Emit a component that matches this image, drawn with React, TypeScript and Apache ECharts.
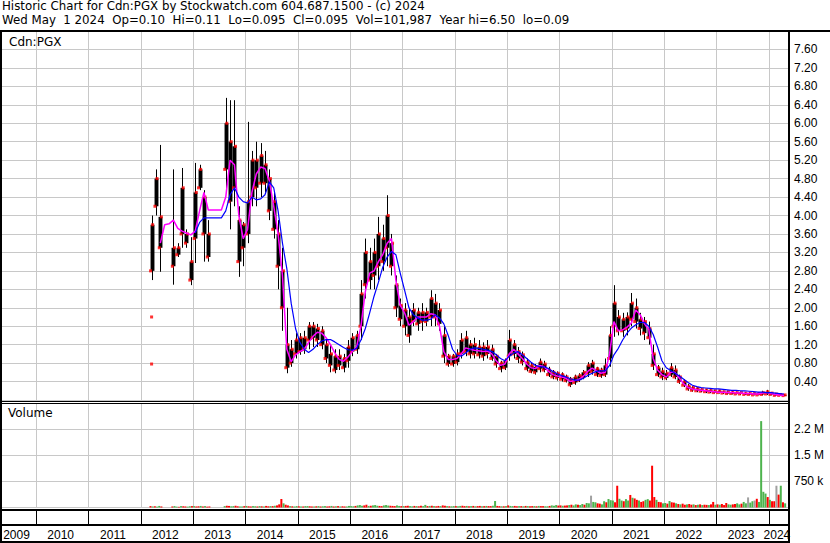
import React, { useEffect, useRef } from "react";
import * as echarts from "echarts";

const HEADER_1 = "Historic Chart for Cdn:PGX by Stockwatch.com 604.687.1500 - (c) 2024";
const HEADER_2 = "Wed May\u00a0 1 2024\u00a0 Op=0.10\u00a0 Hi=0.11\u00a0 Lo=0.095\u00a0 Cl=0.095\u00a0 Vol=101,987\u00a0 Year hi=6.50\u00a0 lo=0.09";
const SYMBOL_LABEL = "Cdn:PGX";
const VOLUME_LABEL = "Volume";

// visible time window (fractional years)
const T_MIN = 2009.312;
const T_MAX = 2024.367;

const YEARS = [2009, 2010, 2011, 2012, 2013, 2014, 2015, 2016, 2017, 2018, 2019, 2020, 2021, 2022, 2023, 2024];

// monthly data from March 2012 to April 2024
const FIRST_YEAR = 2012;
const FIRST_MONTH = 3;
const MONTH_COUNT = 146;

const LOW = [
  2.6, 4.0, 2.78, null, null, 2.5, 3.1, 3.3, 3.3, 2.49,
  2.97, 4.55, 3.0, 3.0, null, null, null, 4.55, 3.7, 4.2, 2.67, 2.9,
  3.4, 4.2, 4.2, 4.4, 4.5, 3.9, 3.5, 2.4, 1.5, 0.58, 0.72, 0.9,
  0.98, 1.0, 1.1, 1.15, 1.15, 1.1, 0.8, 0.6, 0.58, 0.65, 0.6, 0.7,
  0.95, 1.0, 1.3, 2.2, 2.4, 2.4, 2.6, 2.8, 2.9, 2.7, 1.8, 1.6,
  1.4, 1.24, 1.6, 1.5, 1.5, 1.6, 1.6, 1.6, 1.5, 0.8, 0.72, 0.72,
  0.75, 0.9, 0.95, 0.9, 0.9, 0.9, 0.85, 0.9, 0.85, 0.7, 0.6, 0.65,
  0.85, 0.9, 0.8, 0.75, 0.62, 0.58, 0.55, 0.6, 0.6, 0.5, 0.45, 0.42,
  0.4, 0.38, 0.28, 0.33, 0.39, 0.45, 0.5, 0.55, 0.5, 0.48, 0.5, 0.72,
  1.37, 1.4, 1.37, 1.4, 1.6, 1.55, 1.4, 1.3, 1.2, 0.65, 0.5, 0.43,
  0.43, 0.5, 0.45, 0.35, 0.28, 0.2, 0.18, 0.17, 0.17, 0.15, 0.15, 0.14,
  0.14, 0.13, 0.12, 0.12, 0.12, 0.11, 0.11, 0.1, 0.1, 0.1, 0.1, 0.11,
  0.1, 0.09, 0.09, 0.09,
];
const HIGH = [
  4.0, 5.0, 5.53, null, null, 5.0, 3.4, 5.03, 3.7, 3.53,
  5.14, 5.1, 4.55, 3.9, null, null, null, 6.55, 6.5, 6.5, 4.2, 3.86,
  6.03, 5.4, 5.6, 5.57, 5.4, 5.0, 4.5, 3.9, 3.3, 2.0, 1.3, 1.45,
  1.45, 1.5, 1.69, 1.69, 1.65, 1.6, 1.3, 1.2, 1.1, 1.1, 1.0, 1.3,
  1.45, 1.5, 2.6, 3.5, 3.3, 3.5, 3.97, 3.8, 4.44, 3.6, 2.7, 2.2,
  2.1, 2.0, 2.1, 2.0, 2.1, 2.0, 2.38, 2.3, 2.1, 1.6, 1.0, 1.0,
  1.1, 1.45, 1.5, 1.3, 1.35, 1.3, 1.25, 1.3, 1.2, 1.0, 0.85, 0.9,
  1.52, 1.3, 1.15, 1.05, 0.9, 0.8, 0.78, 0.9, 0.85, 0.72, 0.65, 0.62,
  0.6, 0.55, 0.5, 0.55, 0.58, 0.65, 0.82, 0.87, 0.72, 0.7, 0.9, 1.6,
  2.49, 1.95, 1.89, 1.9, 2.32, 2.2, 1.89, 1.8, 1.7, 1.2, 0.76, 0.7,
  0.65, 0.8, 0.75, 0.55, 0.45, 0.35, 0.3, 0.28, 0.25, 0.24, 0.23, 0.22,
  0.22, 0.2, 0.2, 0.19, 0.18, 0.18, 0.17, 0.17, 0.16, 0.16, 0.2, 0.22,
  0.17, 0.14, 0.13, 0.12,
];
const OPEN = [
  2.8, 4.2, 3.3, null, null, 2.9, 3.15, 3.6, 3.4, 2.6,
  3.5, 4.6, 3.6, 3.1, null, null, null, 5.0, 4.3, 4.6, 3.0, 3.3,
  3.6, 4.4, 4.6, 4.7, 4.7, 4.1, 3.7, 2.9, 2.0, 0.7, 0.8, 1.0,
  1.05, 1.1, 1.3, 1.35, 1.3, 1.2, 0.9, 0.75, 0.65, 0.75, 0.7, 0.85,
  1.05, 1.1, 1.6, 2.5, 2.6, 2.7, 2.9, 3.0, 3.3, 2.9, 2.0, 1.75,
  1.6, 1.4, 1.7, 1.65, 1.7, 1.7, 1.8, 1.8, 1.65, 0.95, 0.78, 0.78,
  0.82, 1.0, 1.05, 1.0, 1.0, 0.98, 0.95, 1.0, 0.9, 0.78, 0.68, 0.7,
  0.95, 1.0, 0.9, 0.82, 0.68, 0.62, 0.6, 0.68, 0.65, 0.55, 0.5, 0.48,
  0.45, 0.42, 0.33, 0.38, 0.43, 0.5, 0.58, 0.62, 0.55, 0.53, 0.55, 0.9,
  1.6, 1.5, 1.5, 1.55, 1.75, 1.7, 1.55, 1.45, 1.35, 0.75, 0.55, 0.5,
  0.48, 0.55, 0.5, 0.4, 0.32, 0.24, 0.21, 0.2, 0.19, 0.18, 0.17, 0.16,
  0.16, 0.15, 0.14, 0.14, 0.13, 0.13, 0.12, 0.12, 0.11, 0.11, 0.12, 0.13,
  0.12, 0.1, 0.1, 0.095,
];
const CLOSE = [
  3.8, 4.8, 3.97, null, null, 3.3, 3.3, 4.6, 3.6, 3.0,
  4.5, 5.0, 4.4, 3.6, null, null, null, 6.0, 5.6, 5.5, 3.9, 3.8,
  4.3, 5.2, 5.2, 5.3, 5.1, 4.8, 4.3, 3.6, 2.8, 1.2, 1.1, 1.3,
  1.35, 1.35, 1.6, 1.6, 1.55, 1.5, 1.2, 1.0, 0.95, 0.95, 0.9, 1.15,
  1.35, 1.4, 2.3, 3.2, 3.0, 3.2, 3.6, 3.5, 4.0, 3.4, 2.5, 2.05,
  1.95, 1.8, 1.95, 1.9, 1.9, 1.9, 2.2, 2.1, 1.95, 1.4, 0.95, 0.95,
  1.0, 1.3, 1.35, 1.2, 1.2, 1.15, 1.15, 1.15, 1.1, 0.95, 0.8, 0.85,
  1.3, 1.2, 1.05, 0.98, 0.82, 0.75, 0.72, 0.82, 0.78, 0.65, 0.6, 0.58,
  0.55, 0.5, 0.45, 0.5, 0.53, 0.6, 0.75, 0.8, 0.68, 0.65, 0.75, 1.4,
  2.1, 1.8, 1.75, 1.8, 2.1, 2.0, 1.75, 1.7, 1.55, 1.0, 0.7, 0.62,
  0.58, 0.7, 0.65, 0.5, 0.4, 0.3, 0.27, 0.25, 0.23, 0.22, 0.21, 0.2,
  0.2, 0.18, 0.18, 0.17, 0.16, 0.16, 0.15, 0.15, 0.14, 0.14, 0.16, 0.18,
  0.15, 0.13, 0.12, 0.11,
];
const MA_FAST = [
  null, null, 3.4, 3.8, 3.82, 3.9, 3.72, 3.66, 3.62, 3.58,
  3.66, 4.1, 4.5, 4.12, 4.12, 4.12, 4.12, 4.4, 5.2, 5.1, 4.0, 3.5,
  3.7, 4.5, 4.9, 5.05, 5.02, 4.75, 4.2, 3.6, 2.7, 1.1, 0.83, 0.98,
  1.05, 1.1, 1.25, 1.38, 1.47, 1.45, 1.35, 1.2, 1.02, 0.88, 0.84, 0.93,
  1.05, 1.15, 1.6, 2.35, 2.75, 2.8, 3.0, 3.15, 3.4, 3.5, 2.6, 2.05,
  1.89, 1.62, 1.7, 1.8, 1.8, 1.8, 1.87, 1.85, 1.6, 1.05, 0.88, 0.88,
  0.9, 1.0, 1.13, 1.1, 1.08, 1.07, 1.05, 1.06, 1.0, 0.85, 0.75, 0.78,
  1.0, 1.1, 1.0, 0.9, 0.78, 0.7, 0.68, 0.75, 0.72, 0.62, 0.55, 0.52,
  0.5, 0.47, 0.4, 0.42, 0.45, 0.52, 0.62, 0.69, 0.63, 0.58, 0.6, 1.0,
  1.7, 1.5, 1.52, 1.58, 1.67, 1.95, 1.85, 1.65, 1.52, 0.9, 0.65, 0.55,
  0.5, 0.6, 0.6, 0.47, 0.35, 0.27, 0.24, 0.22, 0.21, 0.2, 0.19, 0.18,
  0.17, 0.17, 0.16, 0.16, 0.15, 0.15, 0.14, 0.14, 0.13, 0.13, 0.15, 0.16,
  0.14, 0.12, 0.11, 0.1,
];
const MA_SLOW = [
  null, null, null, null, null, null, null, null, null, null,
  3.62, 3.85, 3.95, 3.95, 3.95, 3.95, 3.95, 4.1, 4.45, 4.6, 4.4, 4.3,
  4.27, 4.4, 4.34, 4.36, 4.45, 4.73, 4.6, 4.1, 3.4, 2.85, 2.1, 1.55,
  1.25, 1.1, 1.03, 1.1, 1.2, 1.28, 1.31, 1.31, 1.26, 1.2, 1.14, 1.09,
  1.08, 1.12, 1.3, 1.55, 1.89, 2.25, 2.55, 2.88, 3.1, 3.22, 3.15, 2.75,
  2.38, 2.0, 1.85, 1.78, 1.73, 1.73, 1.75, 1.85, 1.78, 1.65, 1.4, 1.1,
  0.97, 0.95, 1.02, 1.1, 1.13, 1.12, 1.1, 1.08, 1.05, 0.98, 0.9, 0.85,
  0.95, 1.02, 1.05, 0.98, 0.9, 0.82, 0.75, 0.72, 0.72, 0.68, 0.62, 0.57,
  0.53, 0.5, 0.46, 0.43, 0.43, 0.47, 0.53, 0.58, 0.62, 0.63, 0.63, 0.75,
  0.98, 1.12, 1.3, 1.45, 1.56, 1.63, 1.68, 1.68, 1.6, 1.42, 1.15, 0.85,
  0.7, 0.64, 0.58, 0.52, 0.45, 0.38, 0.32, 0.29, 0.27, 0.26, 0.25, 0.24,
  0.24, 0.23, 0.22, 0.21, 0.21, 0.2, 0.2, 0.19, 0.18, 0.17, 0.17, 0.16,
  0.16, 0.15, 0.14, 0.13,
];
// isolated trades
const STRAY_MONTHS = ["2012-03", "2012-03"];
const STRAY_PRICES = [1.8, 0.78];

// volume in thousands, first half / second half of each month
const VOL_FIRST = [
  40, 35, 45, 0, 0, 30, 25, 40, 30, 35,
  40, 35, 30, 25, 0, 0, 0, 40, 45, 40, 35, 30,
  45, 30, 35, 40, 30, 35, 40, 60, 244, 80, 40, 30,
  35, 30, 40, 30, 35, 30, 40, 35, 30, 40, 35, 30,
  40, 45, 70, 60, 45, 60, 50, 40, 70, 50, 40, 45,
  40, 50, 35, 40, 50, 75, 45, 40, 45, 60, 40, 35,
  40, 45, 40, 35, 45, 40, 35, 45, 40, 187, 40, 35,
  60, 40, 35, 40, 45, 35, 40, 45, 40, 35, 60, 70,
  60, 55, 70, 60, 80, 100, 130, 340, 150, 110, 180, 244,
  200, 625, 200, 240, 360, 260, 200, 180, 240, 1200, 220, 150,
  130, 187, 140, 100, 110, 90, 80, 70, 90, 80, 70, 160,
  90, 100, 130, 80, 100, 90, 160, 290, 180, 250, 2480, 400,
  220, 180, 370, 150,
];
const VOL_SECOND = [
  30, 25, 30, 0, 0, 40, 20, 35, 25, 40,
  30, 45, 40, 30, 0, 0, 0, 50, 35, 50, 30, 40,
  35, 40, 30, 35, 45, 40, 50, 90, 120, 60, 35, 40,
  30, 40, 35, 30, 40, 35, 30, 45, 35, 30, 30, 45,
  35, 60, 50, 80, 50, 70, 45, 60, 55, 45, 60, 40,
  45, 40, 45, 35, 40, 40, 50, 35, 40, 50, 35, 40,
  35, 50, 45, 40, 35, 45, 40, 40, 50, 45, 35, 40,
  45, 45, 40, 35, 40, 40, 35, 40, 35, 45, 50, 55,
  50, 60, 80, 90, 70, 80, 120, 160, 120, 90, 150, 210,
  150, 250, 180, 200, 280, 220, 160, 220, 200, 300, 160, 120,
  110, 150, 120, 90, 80, 100, 90, 80, 70, 75, 90, 80,
  80, 70, 90, 90, 120, 110, 120, 140, 200, 160, 450, 300,
  180, 625, 625, 120,
];
// g = up, r = down, n = unchanged (two per month)
const VOL_DIR = [
  "rgrggrrgrgrggrgrrggr",
  "grrgrgrrgggrgrgrrggrrggr",
  "grrggrgrgrrgrgrrrgrrgrgg",
  "rgrggrrgrgrggrrgrgrgrrgg",
  "ggrgggrrgrgggrrgggrrrggr",
  "grrggrgrrggrgrgrrgrrgrgg",
  "rggrrgrgrgrrgrgrrggrrgrg",
  "rggrrgrgrgrrgrgrrggrgggr",
  "rgrrgrggrggrggnggrrggrgg",
  "grrggrggrgrrgrrggrrrgrrg",
  "grgrrgrgrrgrrgrgrgrrgrrg",
  "rgrrrggrrggrggnggnrggggr",
  "grrnrgrg",
].join("");

const FONT = '"Liberation Sans", Arial, sans-serif';
const HEAD_FONT = '"DejaVu Sans", sans-serif';

export default function App() {
  const ref = useRef<HTMLDivElement>(null);

  useEffect(() => {
    if (!ref.current) return;
    const chart = echarts.init(ref.current, undefined, { renderer: "svg" });

    const monthTime = (i: number, frac: number) => {
      const idx = FIRST_YEAR * 12 + (FIRST_MONTH - 1) + i;
      return Math.floor(idx / 12) + ((idx % 12) + frac) / 12;
    };
    const parseMonth = (s: string) => {
      const [y, m] = s.split("-").map(Number);
      return y + (m - 0.5) / 12;
    };

    const bars: number[][] = [];
    const marks: number[][] = [];
    const fast: number[][] = [];
    const slow: number[][] = [];
    const vols: any[] = [];
    const dirColor: Record<string, string> = { g: "#4db34d", r: "#ff0000", n: "#a0a0a0" };

    for (let i = 0; i < MONTH_COUNT; i++) {
      const t = monthTime(i, 0.5);
      if (LOW[i] != null && HIGH[i] != null) {
        bars.push([t, OPEN[i] as number, CLOSE[i] as number, LOW[i] as number, HIGH[i] as number]);
        marks.push([t - 0.02, OPEN[i] as number]);
        marks.push([t + 0.02, CLOSE[i] as number]);
      }
      if (MA_FAST[i] != null) fast.push([t, MA_FAST[i] as number]);
      if (MA_SLOW[i] != null) slow.push([t, MA_SLOW[i] as number]);
      const a = VOL_FIRST[i] * 1000;
      const b = VOL_SECOND[i] * 1000;
      if (a > 0) vols.push({ value: [monthTime(i, 0.25), a], itemStyle: { color: dirColor[VOL_DIR[2 * i]] } });
      if (b > 0) vols.push({ value: [monthTime(i, 0.75), b], itemStyle: { color: dirColor[VOL_DIR[2 * i + 1]] } });
    }
    STRAY_MONTHS.forEach((m, i) => marks.push([parseMonth(m), STRAY_PRICES[i]]));

    const boundaries = YEARS.filter((y) => y > T_MIN && y < T_MAX).map((y) => [y]);

    const yearLines = (axis: number, color: string) => ({
      type: "custom",
      xAxisIndex: axis,
      yAxisIndex: axis,
      silent: true,
      z: 1,
      data: boundaries,
      encode: { x: 0 },
      renderItem: (params: any, api: any) => {
        const cs = params.coordSys;
        const x = Math.round(api.coord([api.value(0), 0])[0]) + 0.5;
        return {
          type: "line",
          shape: { x1: x, y1: cs.y, x2: x, y2: cs.y + cs.height },
          style: { stroke: color, lineWidth: 1 },
        };
      },
    });

    const xAxes = [0, 1, 2, 3].map((g) => ({
      type: "value",
      gridIndex: g,
      min: T_MIN,
      max: T_MAX,
      show: false,
      splitLine: { show: false },
    }));

    const frame = (x: number, y: number, w: number, h: number) => ({
      type: "rect",
      z: 100,
      silent: true,
      shape: { x, y, width: w, height: h },
      style: { fill: "#000" },
    });

    const option: any = {
      animation: false,
      backgroundColor: "#ffffff",
      grid: [
        { left: 0, top: 31, width: 788, height: 369 },
        { left: 0, top: 403, width: 788, height: 104.5 },
        { left: 0, top: 511, width: 788, height: 13 },
        { left: 0, top: 526, width: 788, height: 17 },
      ],
      xAxis: xAxes,
      yAxis: [
        {
          type: "value",
          gridIndex: 0,
          position: "right",
          min: 0,
          max: 8,
          interval: 0.4,
          axisLine: { show: false },
          axisTick: { show: false },
          axisLabel: {
            show: true,
            margin: 6,
            color: "#000",
            fontSize: 12,
            fontFamily: FONT,
            showMinLabel: false,
            showMaxLabel: false,
            formatter: (v: number) => v.toFixed(2),
          },
          splitLine: { show: true, lineStyle: { color: "#c8c8c8", width: 1 } },
        },
        {
          type: "value",
          gridIndex: 1,
          position: "right",
          min: 0,
          max: 3000000,
          interval: 750000,
          axisLine: { show: false },
          axisTick: { show: false },
          axisLabel: {
            show: true,
            margin: 6,
            color: "#000",
            fontSize: 12,
            fontFamily: FONT,
            showMinLabel: false,
            showMaxLabel: false,
            formatter: (v: number) =>
              v >= 1000000 ? (Math.floor(v / 100000) / 10).toFixed(1) + " M" : Math.round(v / 1000) + " k",
          },
          splitLine: { show: true, lineStyle: { color: "#c8c8c8", width: 1 } },
        },
        { type: "value", gridIndex: 2, min: 0, max: 1, show: false, splitLine: { show: false } },
        { type: "value", gridIndex: 3, min: 0, max: 1, show: false, splitLine: { show: false } },
      ],
      graphic: [
        { type: "text", x: 2, y: 6, silent: true, style: { text: HEADER_1, font: `11.8px ${HEAD_FONT}`, fill: "#000", verticalAlign: "middle" } },
        { type: "text", x: 2, y: 20, silent: true, style: { text: HEADER_2, font: `11.8px ${HEAD_FONT}`, fill: "#000", verticalAlign: "middle" } },
        { type: "text", x: 9, y: 42, silent: true, z: 50, style: { text: SYMBOL_LABEL, font: `12px ${HEAD_FONT}`, fill: "#000", verticalAlign: "middle" } },
        { type: "text", x: 8, y: 413, silent: true, z: 50, style: { text: VOLUME_LABEL, font: `12px ${HEAD_FONT}`, fill: "#000", verticalAlign: "middle" } },
        frame(0, 30, 830, 2),
        frame(0, 30, 2, 513),
        frame(788, 30, 2, 513),
        frame(0, 401, 788, 1),
        frame(0, 403, 788, 1),
        frame(0, 509, 788, 2),
        frame(0, 524, 788, 2),
        frame(0, 541, 790, 2),
      ],
      series: [
        yearLines(0, "#c8c8c8"),
        yearLines(1, "#c8c8c8"),
        yearLines(2, "#000000"),
        {
          type: "custom",
          xAxisIndex: 3,
          yAxisIndex: 3,
          silent: true,
          data: YEARS.map((y) => [y]),
          encode: { x: 0 },
          renderItem: (params: any, api: any) => {
            const y0 = api.value(0);
            const a = api.coord([Math.max(y0, T_MIN), 0.5]);
            const b = api.coord([Math.min(y0 + 1, T_MAX), 0.5]);
            return {
              type: "text",
              x: (a[0] + b[0]) / 2 - 1.5,
              y: a[1],
              style: {
                text: String(y0),
                font: `12px ${FONT}`,
                fill: "#000",
                align: "center",
                verticalAlign: "middle",
              },
            };
          },
        },
        {
          type: "custom",
          name: "price",
          xAxisIndex: 0,
          yAxisIndex: 0,
          z: 2,
          data: bars,
          encode: { x: 0, y: [1, 2, 3, 4] },
          renderItem: (params: any, api: any) => {
            const t = api.value(0);
            const lo = api.coord([t, api.value(3)]);
            const hi = api.coord([t, api.value(4)]);
            const o = api.coord([t, api.value(1)]);
            const c = api.coord([t, api.value(2)]);
            const w = 3.9;
            const x = Math.round(lo[0]) + 0.5;
            return {
              type: "group",
              children: [
                { type: "line", shape: { x1: x, y1: lo[1], x2: x, y2: hi[1] }, style: { stroke: "#000", lineWidth: 1 } },
                {
                  type: "rect",
                  shape: { x: x - w / 2, y: Math.min(o[1], c[1]), width: w, height: Math.max(1, Math.abs(o[1] - c[1])) },
                  style: { fill: "#000" },
                },
              ],
            };
          },
        },
        {
          type: "scatter",
          name: "trades",
          xAxisIndex: 0,
          yAxisIndex: 0,
          z: 3,
          symbol: "rect",
          symbolSize: 3,
          itemStyle: { color: "#ff0000" },
          data: marks,
        },
        {
          type: "line",
          name: "fast",
          xAxisIndex: 0,
          yAxisIndex: 0,
          z: 4,
          showSymbol: false,
          symbol: "none",
          lineStyle: { color: "#ff00ff", width: 1.5 },
          data: fast,
        },
        {
          type: "line",
          name: "slow",
          xAxisIndex: 0,
          yAxisIndex: 0,
          z: 5,
          showSymbol: false,
          symbol: "none",
          lineStyle: { color: "#0000ff", width: 1.2 },
          data: slow,
        },
        {
          type: "bar",
          name: "volume",
          xAxisIndex: 1,
          yAxisIndex: 1,
          z: 2,
          barWidth: 2,
          data: vols,
        },
      ],
    };

    chart.setOption(option);
    return () => chart.dispose();
  }, []);

  return (
    <div
      ref={ref}
      style={{ position: "fixed", left: 0, top: 0, width: 830, height: 543, background: "#ffffff" }}
    />
  );
}
